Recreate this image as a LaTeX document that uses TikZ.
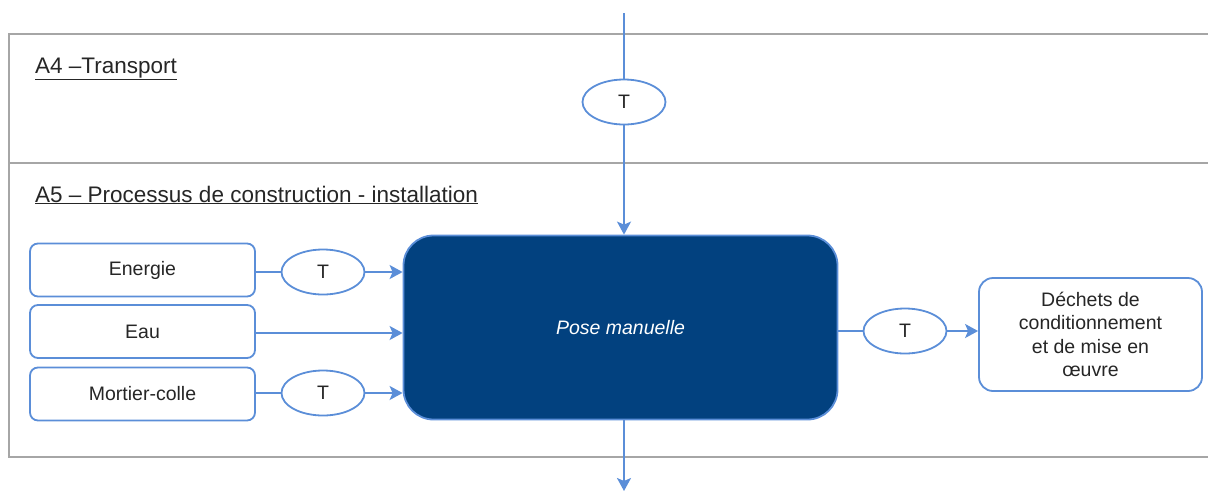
\documentclass[tikz,border=0pt]{standalone}
\usepackage{fontspec}
\setmainfont{Liberation Sans}
\usetikzlibrary{arrows.meta,shapes.geometric}
\definecolor{lblue}{HTML}{5B8ED8}
\definecolor{navy}{HTML}{02417F}
\definecolor{frame}{HTML}{A6A6A6}
\definecolor{txt}{HTML}{262626}
\begin{document}
\begin{tikzpicture}[x=1pt,y=-1pt,
  every node/.style={font=\fontsize{19.5}{23}\selectfont,text=txt},
  inbox/.style={draw=lblue,line width=1.8pt,rounded corners=8pt,fill=white,minimum width=225pt,minimum height=53pt,inner sep=0pt},
  tnode/.style={draw=lblue,line width=1.8pt,ellipse,minimum width=83pt,minimum height=45pt,inner sep=0pt,fill=white},
  conn/.style={draw=lblue,line width=2pt},
  arr/.style={conn,-{Stealth[length=13pt,width=14pt,inset=3pt]}},
  frameline/.style={draw=frame,line width=1.8pt},
  title/.style={anchor=base west,inner sep=0pt,font=\fontsize{22.5}{26}\selectfont}]
\useasboundingbox (0,0) rectangle (1208,491);
% frame
\draw[frameline] (1208,34) -- (9,34) -- (9,457) -- (1208,457);
\draw[frameline] (9,163) -- (1208,163);
\node[title] (a4) at (35,73) {\underline{A4 –Transport}};
\node[title] (a5) at (35,202) {\underline{A5 – Processus de construction - installation}};
% main box
\node[draw=lblue,line width=1.8pt,fill=navy,rounded corners=30pt,minimum width=434pt,minimum height=184pt,inner sep=0pt,text=white,font=\fontsize{19.5}{23}\selectfont\itshape] (main) at (620.5,327.5) {Pose manuelle};
% top
\coordinate (top) at (624,13);
\node[tnode] (t0) at (624,102) {T};
\draw[conn] (top) -- (t0);
\draw[arr] (t0) -- (t0 |- main.north);
% left inputs
\node[inbox] (en) at (142.5,270) {Energie};
\node[inbox] (eau) at (142.5,331.5) {Eau};
\node[inbox] (mc) at (142.5,394) {Mortier-colle};
\node[tnode] (t1) at (323,272) {T};
\node[tnode] (t2) at (323,393) {T};
\draw[conn] (en.east |- t1) -- (t1);
\draw[arr] (t1) -- (t1 -| main.west);
\draw[arr] (eau.east |- 0,333) -- (main.west |- 0,333);
\draw[conn] (mc.east |- t2) -- (t2);
\draw[arr] (t2) -- (t2 -| main.west);
% right output
\node[tnode] (t3) at (905,331) {T};
\node[draw=lblue,line width=1.8pt,rounded corners=14pt,fill=white,minimum width=223pt,minimum height=113pt,inner sep=0pt,align=center,font=\fontsize{19.5}{23.5}\selectfont] (dec) at (1090.5,334.5) {Déchets de\\conditionnement\\et de mise en\\œuvre};
\draw[conn] (main.east |- t3) -- (t3);
\draw[arr] (t3) -- (t3 -| dec.west);
% bottom
\coordinate (bot) at (624,491);
\draw[arr] (main.south -| bot) -- (bot);
\end{tikzpicture}
\end{document}
